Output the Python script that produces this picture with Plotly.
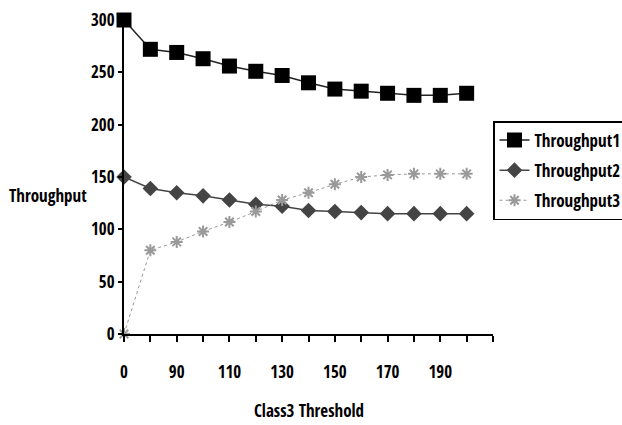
import plotly.graph_objects as go

categories = ["0", "80", "90", "100", "110", "120", "130", "140", "150", "160", "170", "180", "190", "200"]
throughput1 = [300, 272, 269, 263, 256, 251, 247, 240, 234, 232, 230, 228, 228, 230]
throughput2 = [150, 139, 135, 132, 128, 124, 122, 118, 117, 116, 115, 115, 115, 115]
throughput3 = [0, 80, 88, 98, 107, 117, 128, 135, 143, 150, 152, 153, 153, 153]
y_ticks = [0, 50, 100, 150, 200, 250, 300]

FONT = "Open Sans Condensed, Roboto Condensed, sans-serif"
idx = list(range(len(categories)))

fig = go.Figure()
fig.add_trace(go.Scatter(
    x=idx, y=throughput1, name="Throughput1", mode="lines+markers", cliponaxis=False,
    line=dict(color="#222222", width=1.5),
    marker=dict(symbol="square", size=15, color="#000000"),
    legendgroup="a"))
fig.add_trace(go.Scatter(
    x=idx, y=throughput2, name="Throughput2", mode="lines+markers", cliponaxis=False,
    line=dict(color="#444444", width=1.5),
    marker=dict(symbol="diamond", size=12, color="#444444"),
    legendgroup="b"))
fig.add_trace(go.Scatter(
    x=idx, y=throughput3, name="Throughput3", mode="lines+markers", cliponaxis=False,
    line=dict(color="#999999", width=1, dash="dot"),
    marker=dict(symbol="asterisk-open", size=10, color="#9a9a9a", line=dict(width=2, color="#9a9a9a")),
    legendgroup="c"))

ticktext = [c if i % 2 == 0 else "" for i, c in enumerate(categories)] + [""]
fig.update_layout(
    width=622, height=425,
    margin=dict(l=124, r=129, t=20, b=91, autoexpand=False),
    paper_bgcolor="white", plot_bgcolor="white",
    font=dict(family=FONT, size=17, color="black"),
    showlegend=True,
    legend=dict(x=493 / 622, xref="container", xanchor="left",
                y=1 - 121 / 425, yref="container", yanchor="top",
                bordercolor="black", borderwidth=1.5,
                traceorder="grouped", tracegroupgap=5,
                font=dict(family=FONT, size=17, color="black")),
    xaxis=dict(range=[0, 14], tickmode="array", tickvals=list(range(15)),
               ticktext=ticktext, showline=True, linecolor="black", linewidth=2,
               ticks="outside", ticklen=6, tickwidth=1.5, tickcolor="black",
               ticklabelstandoff=16,
               showgrid=False, zeroline=False,
               tickfont=dict(family=FONT, size=17)),
    yaxis=dict(range=[0, 300], tickvals=y_ticks, showline=True, linecolor="black",
               linewidth=2, ticks="outside", ticklen=4, tickwidth=1.5, tickcolor="black",
               showgrid=False, zeroline=False,
               tickfont=dict(family=FONT, size=17)),
)
fig.add_annotation(text="Throughput", x=(7 - 124) / 369, y=(334 - 195) / 314,
                   xref="paper", yref="paper", xanchor="left", yanchor="middle",
                   showarrow=False, font=dict(family=FONT, size=17))
fig.add_annotation(text="Class3 Threshold", x=(309 - 124) / 369, y=-(410 - 334) / 314,
                   xref="paper", yref="paper", xanchor="center", yanchor="middle",
                   showarrow=False, font=dict(family=FONT, size=17))
fig.write_html("out.html")
